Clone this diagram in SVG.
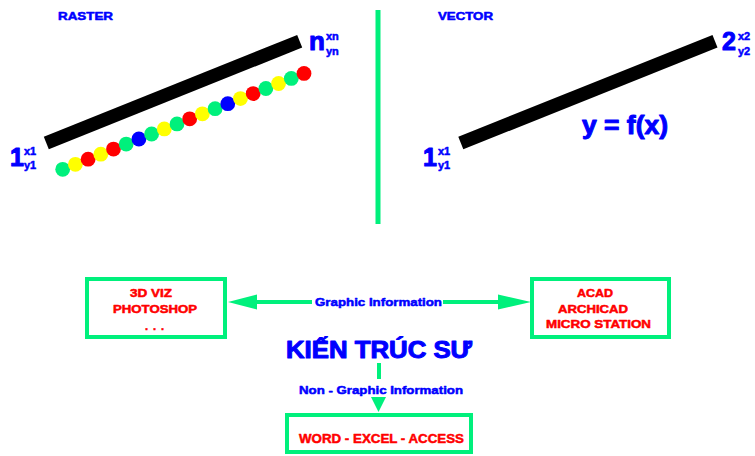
<svg xmlns="http://www.w3.org/2000/svg" width="755" height="456" viewBox="0 0 755 456">
<style>
text{font-family:"Liberation Sans",Arial,sans-serif;font-weight:bold;stroke-linejoin:round}
.b{fill:#0000ff;stroke:#0000ff}
.r{fill:#ff0000;stroke:#ff0000}
.t{font-size:10px;stroke-width:0.5}
.big{font-size:25px;stroke-width:1}
.s{font-size:11px;stroke-width:0.5}
.lbl{font-size:11px;stroke-width:0.5}
.box{fill:none;stroke:#00f07c;stroke-width:4}
.gl{stroke:#00f07c;stroke-width:4;fill:none}
.ah{fill:#00f07c}
.bar{stroke:#000;stroke-width:13.5}
</style>
<rect width="755" height="456" fill="#fff"/>
<g id="raster">
<text class="b t" x="58" y="20" textLength="55" lengthAdjust="spacingAndGlyphs">RASTER</text>
<line class="bar" x1="46.3" y1="143" x2="299.7" y2="41.3"/>
<g id="pixels">
<circle cx="62.7" cy="169.3" r="7.4" fill="#00f07c"/>
<circle cx="75.4" cy="164.3" r="7.4" fill="#ffff00"/>
<circle cx="88.1" cy="159.2" r="7.4" fill="#ff0000"/>
<circle cx="100.8" cy="154.2" r="7.4" fill="#ffff00"/>
<circle cx="113.5" cy="149.1" r="7.4" fill="#ff0000"/>
<circle cx="126.2" cy="144.1" r="7.4" fill="#00f07c"/>
<circle cx="138.9" cy="139.0" r="7.4" fill="#0000ff"/>
<circle cx="151.6" cy="134.0" r="7.4" fill="#00f07c"/>
<circle cx="164.3" cy="128.9" r="7.4" fill="#ffff00"/>
<circle cx="177.0" cy="123.9" r="7.4" fill="#00f07c"/>
<circle cx="189.7" cy="118.8" r="7.4" fill="#ff0000"/>
<circle cx="202.4" cy="113.8" r="7.4" fill="#ffff00"/>
<circle cx="215.1" cy="108.7" r="7.4" fill="#00f07c"/>
<circle cx="227.8" cy="103.7" r="7.4" fill="#0000ff"/>
<circle cx="240.5" cy="98.6" r="7.4" fill="#ffff00"/>
<circle cx="253.2" cy="93.6" r="7.4" fill="#ff0000"/>
<circle cx="265.9" cy="88.5" r="7.4" fill="#00f07c"/>
<circle cx="278.6" cy="83.5" r="7.4" fill="#ffff00"/>
<circle cx="291.3" cy="78.4" r="7.4" fill="#00f07c"/>
<circle cx="304.0" cy="73.4" r="7.4" fill="#ff0000"/>
</g>
<text class="b big" x="10" y="166">1</text>
<text class="b s" x="24" y="155">x1</text>
<text class="b s" x="24" y="169">y1</text>
<text class="b big" style="font-size:26px" x="309" y="50">n</text>
<text class="b s" x="326" y="40">xn</text>
<text class="b s" x="326" y="55">yn</text>
</g>
<g id="divider">
<line x1="378" y1="10" x2="378" y2="224" stroke="#00f07c" stroke-width="5"/>
</g>
<g id="vector">
<text class="b t" x="438" y="20" textLength="55" lengthAdjust="spacingAndGlyphs">VECTOR</text>
<line class="bar" x1="460.8" y1="143" x2="715" y2="41.3"/>
<text class="b big" x="423" y="166">1</text>
<text class="b s" x="438" y="155">x1</text>
<text class="b s" x="438" y="169">y1</text>
<text class="b big" x="722" y="50">2</text>
<text class="b s" x="738" y="40">x2</text>
<text class="b s" x="738" y="55">y2</text>
<text class="b big" x="582" y="134" textLength="86" lengthAdjust="spacingAndGlyphs">y = f(x)</text>
</g>
<g id="connectors">
<line class="gl" x1="250" y1="302" x2="312" y2="302"/>
<polygon class="ah" points="228,302 257,294.5 257,309.5"/>
<line class="gl" x1="443" y1="302" x2="505" y2="302"/>
<polygon class="ah" points="531,302 498,294.5 498,309.5"/>
<text class="b lbl" x="315" y="306" textLength="127" lengthAdjust="spacingAndGlyphs">Graphic Information</text>
<line class="gl" x1="379" y1="363" x2="379" y2="379"/>
<polygon class="ah" points="371,397 386,397 378.5,412"/>
<text class="b lbl" x="299" y="394" textLength="164" lengthAdjust="spacingAndGlyphs">Non - Graphic Information</text>
</g>
<g id="architect">
<text class="b big" style="font-size:23px" x="286" y="358" textLength="186" lengthAdjust="spacingAndGlyphs">KIẾN TRÚC SƯ</text>
</g>
<g id="raster-apps">
<rect class="box" x="87" y="279" width="138" height="58"/>
<text class="r lbl" x="130" y="297" textLength="42" lengthAdjust="spacingAndGlyphs">3D VIZ</text>
<text class="r lbl" x="113" y="313" textLength="84" lengthAdjust="spacingAndGlyphs">PHOTOSHOP</text>
<text class="r lbl" x="145" y="330" textLength="19" lengthAdjust="spacing">. . .</text>
</g>
<g id="vector-apps">
<rect class="box" x="532" y="279" width="137" height="58"/>
<text class="r lbl" x="577" y="297" textLength="36" lengthAdjust="spacingAndGlyphs">ACAD</text>
<text class="r lbl" x="558" y="313" textLength="70" lengthAdjust="spacingAndGlyphs">ARCHICAD</text>
<text class="r lbl" x="546" y="328" textLength="105" lengthAdjust="spacingAndGlyphs">MICRO STATION</text>
</g>
<g id="office-apps">
<rect class="box" x="287" y="415" width="184" height="37"/>
<text class="r lbl" style="font-size:13px" x="299" y="443" textLength="165" lengthAdjust="spacingAndGlyphs">WORD - EXCEL - ACCESS</text>
</g>
</svg>
